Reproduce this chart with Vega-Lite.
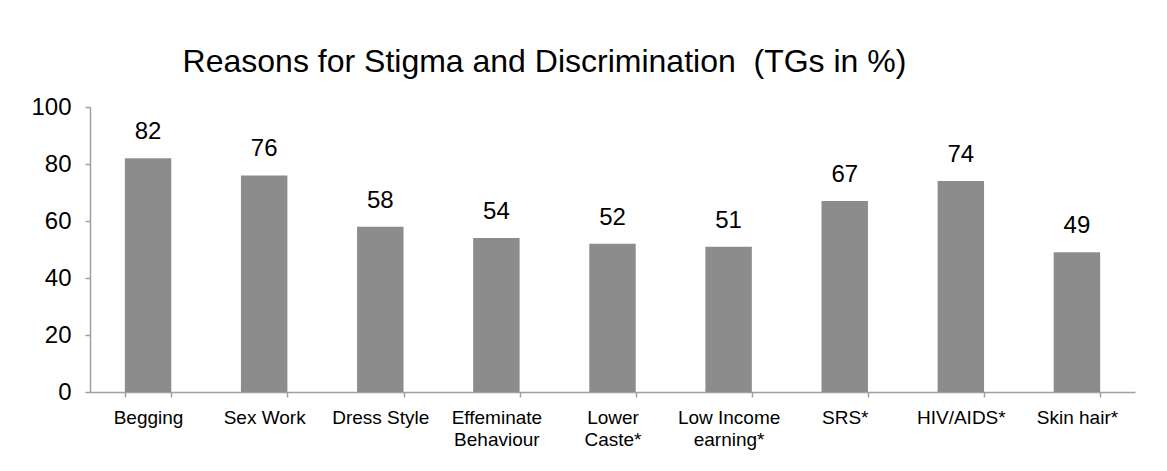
{
  "$schema": "https://vega.github.io/schema/vega-lite/v6.json",
  "autosize": {"type": "none"},
  "padding": {"left": 90, "top": 107, "right": 32, "bottom": 79},
  "width": 1045,
  "height": 285,
  "background": "white",
  "title": {
    "text": "Reasons for Stigma and Discrimination \u00a0(TGs in %)",
    "font": "Liberation Sans",
    "fontSize": 32,
    "fontWeight": "normal",
    "color": "black",
    "anchor": "middle",
    "dx": -68,
    "offset": -9,
    "baseline": "alphabetic"
  },
  "config": {
    "view": {"stroke": null},
    "font": "Liberation Sans"
  },
  "data": {
    "values": [
      {"reason": "Begging", "pct": 82},
      {"reason": "Sex Work", "pct": 76},
      {"reason": "Dress Style", "pct": 58},
      {"reason": "Effeminate Behaviour", "pct": 54},
      {"reason": "Lower Caste*", "pct": 52},
      {"reason": "Low Income earning*", "pct": 51},
      {"reason": "SRS*", "pct": 67},
      {"reason": "HIV/AIDS*", "pct": 74},
      {"reason": "Skin hair*", "pct": 49}
    ]
  },
  "encoding": {
    "x": {
      "field": "reason",
      "type": "nominal",
      "sort": null,
      "scale": {"paddingInner": 0.6, "paddingOuter": 0.3},
      "axis": {
        "title": null,
        "labelAngle": 0,
        "labelFont": "Liberation Sans",
        "labelFontSize": 19,
        "labelColor": "black",
        "labelPadding": 11,
        "labelLineHeight": 22,
        "labelLimit": 200,
        "labelExpr": "datum.value == 'Effeminate Behaviour' ? ['Effeminate', 'Behaviour'] : datum.value == 'Lower Caste*' ? ['Lower', 'Caste*'] : datum.value == 'Low Income earning*' ? ['Low Income', 'earning*'] : datum.value",
        "domainColor": "#a0a0a0",
        "domainWidth": 1.5,
        "tickColor": "#a0a0a0",
        "tickWidth": 1.5,
        "tickSize": 5,
        "tickBand": "extent",
        "grid": false
      }
    },
    "y": {
      "field": "pct",
      "type": "quantitative",
      "scale": {"domain": [0, 100]},
      "axis": {
        "title": null,
        "values": [0, 20, 40, 60, 80, 100],
        "labelFont": "Liberation Sans",
        "labelFontSize": 24,
        "labelColor": "black",
        "labelPadding": 14,
        "domainColor": "#a0a0a0",
        "domainWidth": 1.5,
        "tickColor": "#a0a0a0",
        "tickWidth": 1.5,
        "tickSize": 5,
        "grid": false
      }
    }
  },
  "layer": [
    {"mark": {"type": "bar", "color": "#8c8c8c"}},
    {
      "mark": {"type": "text", "baseline": "alphabetic", "dy": -19, "fontSize": 24, "color": "black", "font": "Liberation Sans"},
      "encoding": {"text": {"field": "pct", "type": "quantitative"}}
    }
  ]
}
